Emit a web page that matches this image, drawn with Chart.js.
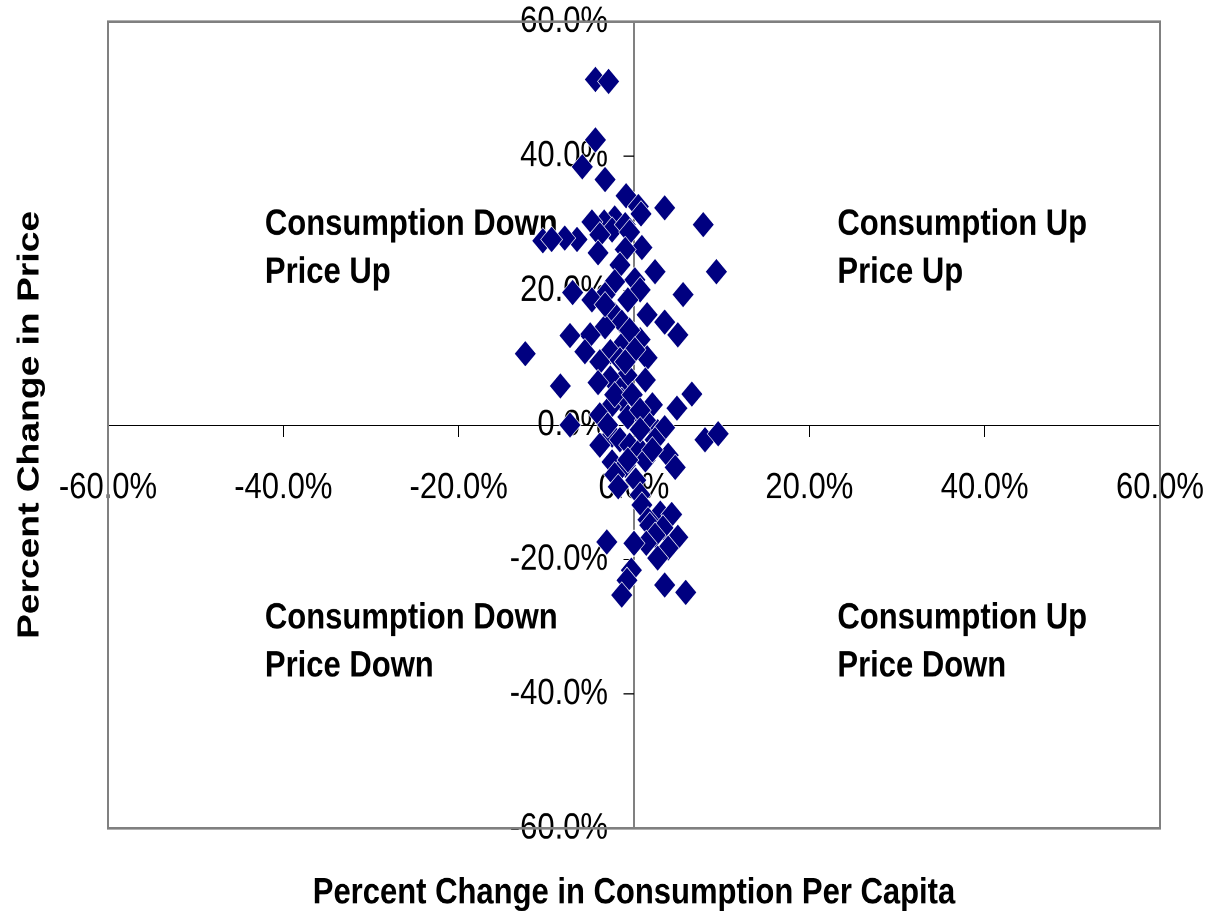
<!DOCTYPE html>
<html>
<head>
<meta charset="utf-8">
<title>Consumption vs Price</title>
<script src="https://cdn.jsdelivr.net/npm/chart.js@4"></script>
<style>
html, body { margin: 0; padding: 0; background: #fff; }
body { width: 1210px; height: 916px; overflow: hidden; }
/* the original picture is stretched vertically, so draw flatter and stretch */
#wrap { width: 1210px; height: 763px; transform: scaleY(1.2005); transform-origin: 0 0; }
</style>
</head>
<body>
<div id="wrap"><canvas id="chart" width="1210" height="763"></canvas></div>
<script>
// percent change in consumption per capita (x) and in price (y), one entry per point
const consumptionChange = [
	-4.4, -2.9, -4.4, -5.9, -3.3, -0.9, 3.5, 7.9, 0.5, 0.8,
	-2.2, -3.4, -4.8, -2.5, -1.0, -0.5, -3.9, -6.5, -7.9, -10.4,
	-9.4, 0.9, -1.0, -4.1, -1.6, 2.4, 9.4, 0.1, -2.2, -3.3,
	0.7, 5.6, -7.0, -4.8, 1.5, -2.2, -1.4, 3.5, 5.0, -3.3,
	-5.0, -7.3, 0.7, -1.4, -2.7, -5.6, -12.4, -3.9, -1.6, 1.5,
	-0.8, -2.7, -4.1, -8.4, 1.3, -1.6, 6.6, 4.9, 2.1, -1.4,
	-2.7, -3.9, -0.7, -7.3, 2.7, 3.5, 1.3, 8.1, 9.6, -2.5,
	-1.6, -3.9, -0.5, 2.4, 0.7, 3.9, -2.5, -1.0, 1.3, -2.2,
	4.7, 0.2, -1.8, 0.7, 0.9, 3.0, 4.3, 1.6, 1.8, 3.3,
	2.4, 5.0, 1.4, 3.9, 0.0, -3.1, 2.7, -0.3, -0.8, 3.5,
	5.9, -1.4, -3.3, -0.7, -0.5, 0.1, -1.0, -2.2, -0.2, 0.7,
	-3.0, 0.7, -0.7, 2.1
];
const priceChange = [
	51.4, 51.1, 42.4, 38.4, 36.5, 34.1, 32.3, 29.8, 32.5, 31.4,
	30.8, 30.2, 30.2, 29.0, 29.8, 28.7, 28.3, 27.6, 27.8, 27.4,
	27.6, 26.4, 26.1, 25.6, 23.8, 22.8, 22.8, 21.6, 21.3, 19.4,
	20.1, 19.4, 19.7, 18.6, 16.4, 16.4, 15.3, 15.3, 13.4, 14.6,
	13.4, 13.3, 12.7, 11.9, 10.9, 10.9, 10.6, 9.4, 9.7, 10.0,
	7.4, 7.0, 6.3, 5.8, 6.7, 5.2, 4.6, 2.5, 3.0, 3.7,
	2.7, 1.5, 1.2, 0.0, -1.0, -0.4, 0.7, -2.2, -1.3, -1.5,
	-2.2, -3.0, -3.0, -2.2, -3.7, -4.5, -5.5, -6.0, -5.2, -7.4,
	-6.3, -8.2, -9.2, -10.4, -11.9, -13.1, -13.3, -14.1, -14.9, -15.3,
	-16.4, -16.7, -17.6, -18.3, -17.6, -17.4, -19.8, -21.6, -23.1, -23.8,
	-24.9, -25.3, 17.9, 18.6, 14.1, 11.2, 9.4, 4.5, 4.5, 2.2,
	0.0, -0.7, -5.2, -3.7
];

// quadrant captions: [x, y, line1, line2]
const quadrantLabels = [
	[-42.1, 29.8, 'Consumption Down', 'Price Up'],
	[23.2, 29.8, 'Consumption Up', 'Price Up'],
	[-42.1, -28.7, 'Consumption Down', 'Price Down'],
	[23.2, -28.7, 'Consumption Up', 'Price Down']
];
const xTitle = 'Percent Change in Consumption Per Capita';
const yTitle = 'Percent Change in Price';

const points = consumptionChange.map((x, i) => ({x: x, y: priceChange[i]}));

const tickFont = {family: "'Liberation Sans Narrow', 'Arial Narrow', sans-serif", size: 31};
const boldFont = "bold 31px 'Liberation Sans', Arial, sans-serif";
const pct = v => v.toFixed(1) + '%';

// centered axes should not push the plot area inwards
function noPadding(scale) {
	scale.paddingLeft = 0;
	scale.paddingRight = 0;
	scale.paddingTop = 0;
	scale.paddingBottom = 0;
}

// gray frame, quadrant captions and the two axis titles
const decorPlugin = {
	id: 'decor',
	beforeDatasetsDraw(chart) {
		const {ctx, chartArea: a, scales} = chart;
		ctx.save();
		ctx.strokeStyle = '#808080';
		ctx.lineWidth = 2;
		ctx.strokeRect(a.left, a.top, a.right - a.left, a.bottom - a.top);

		ctx.fillStyle = '#000';
		ctx.font = boldFont;
		ctx.textAlign = 'left';
		ctx.textBaseline = 'middle';
		quadrantLabels.forEach(function(q) {
			let px = scales.x.getPixelForValue(q[0]);
			let py = scales.y.getPixelForValue(q[1]);
			ctx.fillText(q[2], px, py);
			ctx.fillText(q[3], px, py + 40);
		});
		ctx.restore();
	},
	afterDraw(chart) {
		const {ctx, chartArea: a} = chart;
		ctx.save();
		ctx.fillStyle = '#000';
		ctx.font = boldFont;
		ctx.textAlign = 'center';
		ctx.textBaseline = 'middle';
		ctx.fillText(xTitle, (a.left + a.right) / 2, 744);
		ctx.translate(30, (a.top + a.bottom) / 2);
		ctx.rotate(-Math.PI / 2);
		ctx.fillText(yTitle, 0, 0);
		ctx.restore();
	}
};

new Chart(document.getElementById('chart'), {
	type: 'scatter',
	data: {
		datasets: [{
			data: points,
			pointStyle: 'rectRot',
			pointRadius: 11,
			pointHoverRadius: 11,
			backgroundColor: '#000080',
			borderColor: '#ffffff',
			borderWidth: 0.6
		}]
	},
	options: {
		responsive: false,
		animation: false,
		devicePixelRatio: 2,
		layout: {padding: {left: 108, right: 50, top: 18, bottom: 73}},
		plugins: {
			legend: {display: false},
			tooltip: {enabled: false}
		},
		scales: {
			x: {
				type: 'linear',
				position: 'center',
				min: -60,
				max: 60,
				z: 1,
				afterFit: noPadding,
				ticks: {stepSize: 20, padding: 25, color: '#000', font: tickFont, callback: pct, maxRotation: 0, autoSkip: false},
				grid: {display: true, drawOnChartArea: false, drawTicks: true, tickLength: 9, color: '#000'},
				border: {display: true, color: '#000', width: 1}
			},
			y: {
				type: 'linear',
				position: 'center',
				min: -60,
				max: 60,
				z: 1,
				afterFit: noPadding,
				ticks: {stepSize: 20, padding: 16, color: '#000', font: tickFont, callback: pct, autoSkip: false},
				grid: {display: true, drawOnChartArea: false, drawTicks: true, tickLength: 10, color: '#000'},
				border: {display: true, color: '#000', width: 1}
			}
		}
	},
	plugins: [decorPlugin]
});
</script>
</body>
</html>
